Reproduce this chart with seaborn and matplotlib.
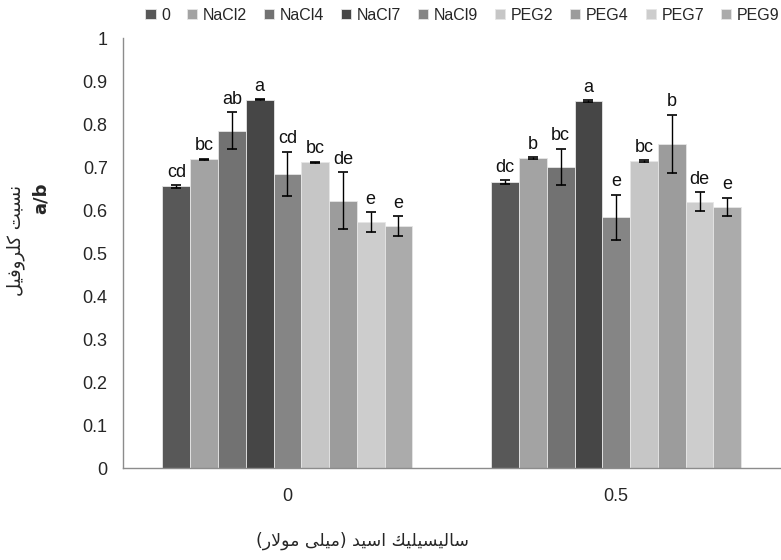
import pandas as pd
import numpy as np
import matplotlib
matplotlib.use("Agg")
import matplotlib.pyplot as plt
import seaborn as sns

# data
groups = ["0", "0.5"]
treatments = ["0", "NaCl2", "NaCl4", "NaCl7", "NaCl9", "PEG2", "PEG4", "PEG7", "PEG9"]
values_0 = [0.655, 0.718, 0.784, 0.857, 0.684, 0.711, 0.622, 0.572, 0.563]
values_05 = [0.665, 0.721, 0.701, 0.853, 0.583, 0.715, 0.754, 0.619, 0.608]
err_0 = [0.004, 0.002, 0.043, 0.002, 0.052, 0.002, 0.066, 0.023, 0.023]
err_05 = [0.005, 0.002, 0.042, 0.002, 0.053, 0.002, 0.068, 0.022, 0.021]
letters_0 = ["cd", "bc", "ab", "a", "cd", "bc", "de", "e", "e"]
letters_05 = ["dc", "b", "bc", "a", "e", "bc", "b", "de", "e"]
colors = ["#585858", "#a3a3a3", "#727272", "#464646", "#858585",
          "#c6c6c6", "#9c9c9c", "#cdcdcd", "#ababab"]

y_title = "نسبت كلروفیل"
x_title = "سالیسیلیك اسید (میلی مولار)"

# minimal arabic shaping (matplotlib has no text shaping)
FORMS = {
    'ا': ('\uFE8D', '\uFE8E', None, None),
    'ب': ('\uFE8F', '\uFE90', '\uFE91', '\uFE92'),
    'ت': ('\uFE95', '\uFE96', '\uFE97', '\uFE98'),
    'د': ('\uFEA9', '\uFEAA', None, None),
    'ر': ('\uFEAD', '\uFEAE', None, None),
    'س': ('\uFEB1', '\uFEB2', '\uFEB3', '\uFEB4'),
    'ف': ('\uFED1', '\uFED2', '\uFED3', '\uFED4'),
    'ك': ('\uFED9', '\uFEDA', '\uFEDB', '\uFEDC'),
    'ل': ('\uFEDD', '\uFEDE', '\uFEDF', '\uFEE0'),
    'م': ('\uFEE1', '\uFEE2', '\uFEE3', '\uFEE4'),
    'ن': ('\uFEE5', '\uFEE6', '\uFEE7', '\uFEE8'),
    'و': ('\uFEED', '\uFEEE', None, None),
    'ی': ('\uFEEF', '\uFEF0', '\uFEF3', '\uFEF4'),
    '\uFEFB': ('\uFEFB', '\uFEFC', None, None),
}


def shape(text):
    text = text.replace('لا', '\uFEFB')
    out = []
    for i, ch in enumerate(text):
        if ch not in FORMS:
            out.append(ch)
            continue
        prev = text[i - 1] if i > 0 else ''
        nxt = text[i + 1] if i + 1 < len(text) else ''
        join_prev = prev in FORMS and FORMS[prev][2] is not None
        join_next = nxt in FORMS and FORMS[ch][2] is not None
        f = FORMS[ch]
        if join_prev and join_next:
            out.append(f[3])
        elif join_prev:
            out.append(f[1])
        elif join_next:
            out.append(f[2])
        else:
            out.append(f[0])
    vis = ''.join(out)[::-1]
    return vis.translate(str.maketrans('()', ')('))


df = pd.DataFrame({
    "group": np.repeat(groups, len(treatments)),
    "treatment": treatments * len(groups),
    "value": values_0 + values_05,
    "err": err_0 + err_05,
    "letter": letters_0 + letters_05,
})

sns.set_style("white")
plt.rcParams['font.family'] = ['Liberation Sans', 'DejaVu Sans']

fig = plt.figure(figsize=(7.81, 5.60), dpi=100)
ax = fig.add_axes([0.1575, 0.164, 0.842, 0.768])

sns.barplot(data=df, x="group", y="value", hue="treatment", hue_order=treatments,
            palette=colors, width=0.76, errorbar=None, ax=ax, saturation=1,
            edgecolor="#e6e6e6", linewidth=0.6)

bar_conts = list(ax.containers)
for k, cont in enumerate(bar_conts):
    sub = df[df["treatment"] == treatments[k]].set_index("group").loc[groups]
    xs = [b.get_x() + b.get_width() / 2 for b in cont]
    ax.errorbar(xs, sub["value"], yerr=sub["err"], fmt="none", ecolor="black",
                elinewidth=1, capsize=3.5, capthick=1.2)
    for x, v, e, lab in zip(xs, sub["value"], sub["err"], sub["letter"]):
        ax.annotate(lab, (x, v + e), xytext=(0, 3), textcoords="offset points",
                    ha="center", va="bottom", fontsize=13, color="#111111")

ax.set_ylim(0, 1)
ax.set_yticks(np.arange(0, 1.01, 0.1))
ax.set_yticklabels(["0"] + [f"{t:.1f}" for t in np.arange(0.1, 0.95, 0.1)] + ["1"])
ax.set_xlim(-0.5, 1.5)
ax.set_xlabel("")
ax.set_ylabel("")
sns.despine(ax=ax)
for s in ["left", "bottom"]:
    ax.spines[s].set_color("#8c8c8c")
    ax.spines[s].set_linewidth(1)
ax.tick_params(axis="y", length=5, color="#8c8c8c", labelsize=13, pad=6)
ax.tick_params(axis="x", length=0, labelsize=13, pad=14)

ax.legend(ncol=9, loc="center", bbox_to_anchor=(0.592, 0.973),
          bbox_transform=fig.transFigure, frameon=False, fontsize=11.5,
          handlelength=0.65, handleheight=0.65, handletextpad=0.35,
          columnspacing=1.05, borderpad=0.1, borderaxespad=0)

fig.text(362 / 781, 1 - 541 / 560, shape(x_title), ha="center", va="center",
         fontsize=12.5, family=["DejaVu Sans"])
fig.text(16 / 781, 1 - 240 / 560, shape(y_title), ha="center", va="center",
         rotation=90, fontsize=13, family=["DejaVu Sans"])
fig.text(41 / 781, 1 - 198 / 560, "a/b", ha="center", va="center",
         rotation=90, fontsize=13, fontweight="bold", family=["DejaVu Sans"])

fig.savefig("out.png", dpi=100)
